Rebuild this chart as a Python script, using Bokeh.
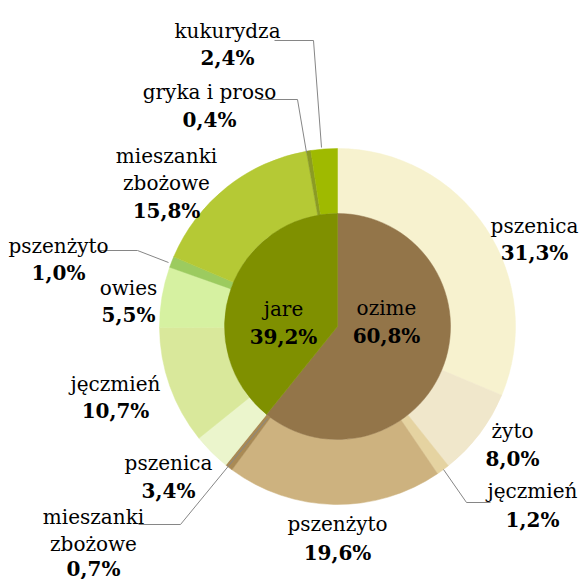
import math
from bokeh.plotting import figure
from bokeh.models import ColumnDataSource, Range1d
from bokeh.core.properties import value
from bokeh.embed import file_html
from bokeh.resources import INLINE

# ---------------- data ----------------
groups = ["ozime", "jare"]
group_values = [60.8, 39.2]

crops = ["pszenica", "żyto", "jęczmień", "pszenżyto", "mieszanki zbożowe",
         "pszenica", "jęczmień", "owies", "pszenżyto", "mieszanki zbożowe",
         "gryka i proso", "kukurydza"]
crop_values = [31.3, 8.0, 1.2, 19.6, 0.7,
               3.4, 10.7, 5.5, 1.0, 15.8, 0.4, 2.4]

# ---------------- styles / layout ----------------
group_colors = ["#937549", "#7f9000"]
crop_colors = ["#f7f2cf", "#f0e7cb", "#e5d3a1", "#cdb27f", "#a98a55",
               "#ebf5cc", "#d9e89b", "#d6f1a1", "#9ccb5f", "#b5c935",
               "#8b9b24", "#9fba00"]

W, H = 580, 579
def X(px):
    return px
def Y(py):
    return H - py

CX, CY = 337, 326
R_IN, R_OUT = 113, 178
FONT = value("DejaVu Serif")
FS = "20px"

# label anchors (page px): centre x, baseline y of first line
group_label_pos = [(386, 307), (283, 308)]
crop_label_pos = [(534, 225), (512, 430), (532, 490), (337, 523), (93, 516),
                  (168, 462), (115, 383), (128, 287), (58, 245), (166, 155),
                  (209, 91), (227, 30)]
LINE_STEP = 27
crop_pct_step = [27, 28, 29, 29, 25, 28, 27, 27, 27, 28, 28, 27]

leaders = {
    2: [(443, 469), (466, 502), (490, 502)],
    4: [(138, 524), (180, 524), (267, 418)],
    8: [(98, 250), (137, 250), (168, 262)],
    10: [(258, 99), (297, 99), (306, 152)],
    11: [(274, 40), (313, 40), (321, 147)],
}


def fmt(v):
    return f"{v:.1f}".replace(".", ",") + "%"


def wedge_angles(vals):
    total = sum(vals)
    starts, ends = [], []
    c = 0.0
    for v in vals:
        starts.append(math.pi / 2 - 2 * math.pi * c / total)
        c += v
        ends.append(math.pi / 2 - 2 * math.pi * c / total)
    return starts, ends


p = figure(width=W, height=H, x_range=Range1d(0, W), y_range=Range1d(0, H),
           output_backend="svg", toolbar_location=None,
           x_axis_location=None, y_axis_location=None, min_border=0)
p.grid.visible = False
p.outline_line_color = None
p.background_fill_color = "white"
p.border_fill_color = "white"

# outer ring
cs, ce = wedge_angles(crop_values)
outer = ColumnDataSource(dict(start=cs, end=ce, color=crop_colors, name=crops,
                              val=crop_values))
p.annular_wedge(x=X(CX), y=Y(CY), inner_radius=R_IN, outer_radius=R_OUT,
                start_angle="start", end_angle="end", direction="clock",
                fill_color="color", line_color="color", line_width=0.5,
                source=outer)

# inner pie
gs, ge = wedge_angles(group_values)
inner = ColumnDataSource(dict(start=gs, end=ge, color=group_colors,
                              name=groups, val=group_values))
p.wedge(x=X(CX), y=Y(CY), radius=R_IN, start_angle="start", end_angle="end",
        direction="clock", fill_color="color", line_color="color",
        line_width=0.5, source=inner)

# leader lines
xs, ys = [], []
for idx, pts in leaders.items():
    xs.append([X(a) for a, b in pts])
    ys.append([Y(b) for a, b in pts])
p.multi_line(xs=xs, ys=ys, line_color="#868686", line_width=1)

# labels
name_x, name_y, name_t = [], [], []
pct_x, pct_y, pct_t = [], [], []
for i, (name, v) in enumerate(zip(crops, crop_values)):
    cx, by = crop_label_pos[i]
    lines = name.split(" ") if name == "mieszanki zbożowe" else [name]
    for k, ln in enumerate(lines):
        name_x.append(X(cx))
        name_y.append(Y(by + k * LINE_STEP))
        name_t.append(ln)
    pct_x.append(X(cx))
    pct_y.append(Y(by + (len(lines) - 1) * LINE_STEP + crop_pct_step[i]))
    pct_t.append(fmt(v))

for i, (name, v) in enumerate(zip(groups, group_values)):
    cx, by = group_label_pos[i]
    name_x.append(X(cx))
    name_y.append(Y(by))
    name_t.append(name)
    pct_x.append(X(cx))
    pct_y.append(Y(by + 28))
    pct_t.append(fmt(v))

p.text(x=name_x, y=name_y, text=name_t, text_font=FONT, text_font_size=FS,
       text_align="center", text_baseline="alphabetic", text_color="black")
p.text(x=pct_x, y=pct_y, text=pct_t, text_font=FONT, text_font_size=FS,
       text_font_style="bold", text_align="center",
       text_baseline="alphabetic", text_color="black")

open("out.html", "w").write(file_html(p, INLINE))
